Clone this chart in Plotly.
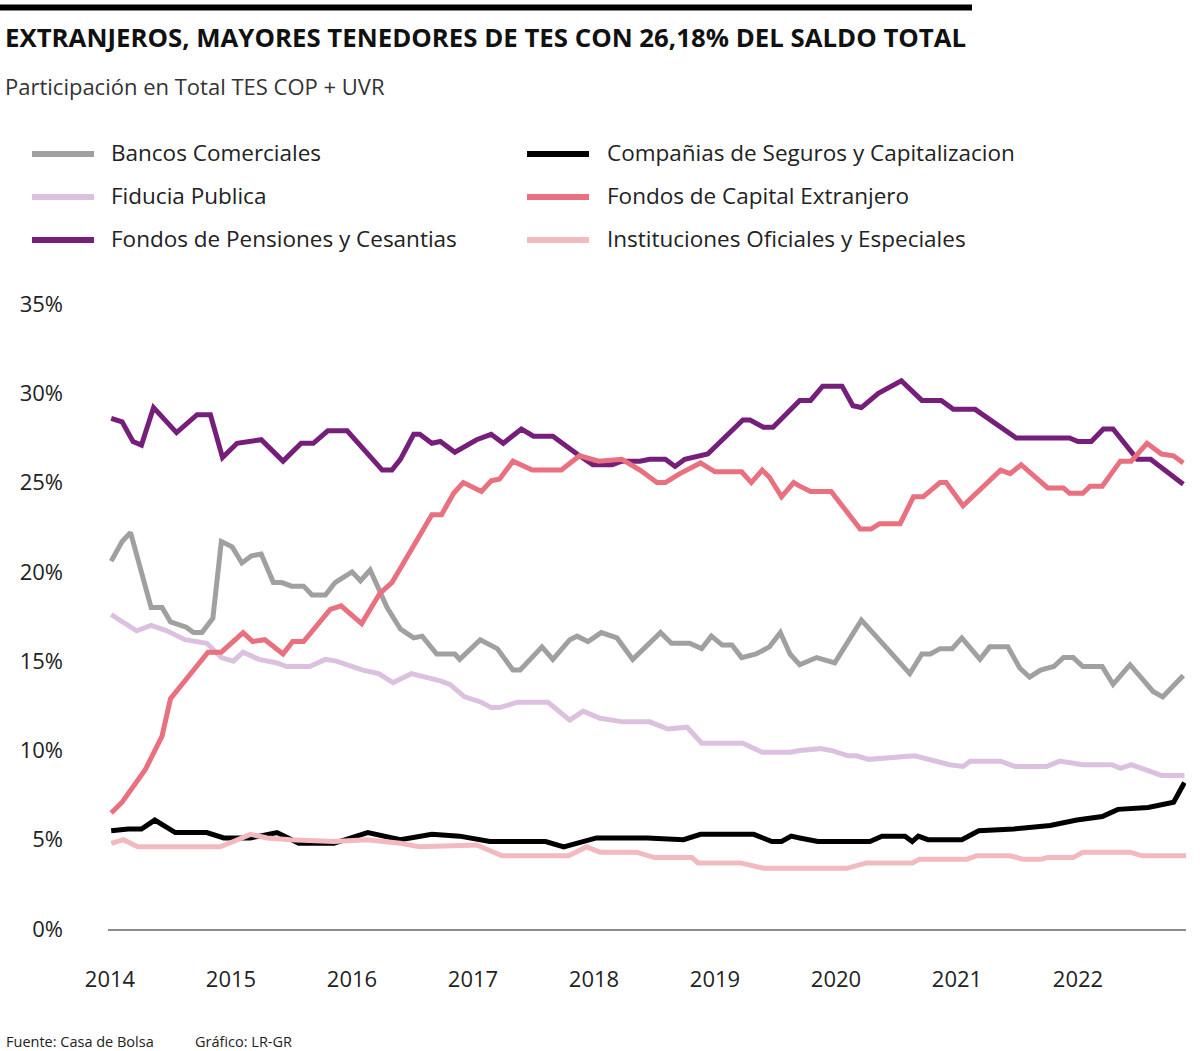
import plotly.graph_objects as go

# ---------------- data (decimal years, % share) ----------------
names = [
    "Bancos Comerciales",
    "Compañias de Seguros y Capitalizacion",
    "Fiducia Publica",
    "Fondos de Capital Extranjero",
    "Fondos de Pensiones y Cesantias",
    "Instituciones Oficiales y Especiales",
]
colors = ["#a0a0a0", "#000000", "#dcc0e0", "#e9707e", "#751f7b", "#f2b9be"]

bancos_x = [2014.01, 2014.10, 2014.17, 2014.34, 2014.43, 2014.50, 2014.63, 2014.69, 2014.76, 2014.85,
            2014.92, 2015.01, 2015.09, 2015.17, 2015.25, 2015.35, 2015.42, 2015.50, 2015.60, 2015.67,
            2015.78, 2015.86, 2016.00, 2016.07, 2016.15, 2016.29, 2016.40, 2016.51, 2016.58, 2016.70,
            2016.85, 2016.89, 2017.06, 2017.20, 2017.33, 2017.39, 2017.57, 2017.66, 2017.80, 2017.86,
            2017.95, 2018.06, 2018.19, 2018.32, 2018.55, 2018.64, 2018.79, 2018.89, 2018.97, 2019.06,
            2019.14, 2019.22, 2019.34, 2019.45, 2019.54, 2019.62, 2019.70, 2019.84, 2019.99, 2020.21,
            2020.61, 2020.71, 2020.78, 2020.86, 2020.96, 2021.04, 2021.19, 2021.27, 2021.42, 2021.52,
            2021.60, 2021.69, 2021.80, 2021.88, 2021.96, 2022.04, 2022.20, 2022.29, 2022.43, 2022.62,
            2022.70, 2022.87]
bancos_y = [20.6, 21.7, 22.2, 18.0, 18.0, 17.2, 16.9, 16.6, 16.6, 17.4,
            21.7, 21.4, 20.5, 20.9, 21.0, 19.4, 19.4, 19.2, 19.2, 18.7,
            18.7, 19.4, 20.0, 19.5, 20.1, 18.0, 16.8, 16.3, 16.4, 15.4,
            15.4, 15.1, 16.2, 15.7, 14.5, 14.5, 15.8, 15.1, 16.2, 16.4,
            16.1, 16.6, 16.3, 15.1, 16.6, 16.0, 16.0, 15.7, 16.4, 15.9,
            15.9, 15.2, 15.4, 15.8, 16.6, 15.4, 14.8, 15.2, 14.9, 17.3,
            14.3, 15.4, 15.4, 15.7, 15.7, 16.3, 15.1, 15.8, 15.8, 14.6,
            14.1, 14.5, 14.7, 15.2, 15.2, 14.7, 14.7, 13.7, 14.8, 13.3,
            13.0, 14.2]

seguros_x = [2014.01, 2014.15, 2014.26, 2014.37, 2014.54, 2014.80, 2014.94, 2015.16, 2015.38, 2015.56,
             2015.85, 2016.13, 2016.40, 2016.66, 2016.89, 2017.14, 2017.60, 2017.75, 2018.02, 2018.44,
             2018.74, 2018.88, 2019.32, 2019.47, 2019.55, 2019.63, 2019.70, 2019.85, 2020.28, 2020.38,
             2020.57, 2020.63, 2020.68, 2020.76, 2021.04, 2021.18, 2021.47, 2021.77, 2021.99, 2022.20,
             2022.33, 2022.58, 2022.79, 2022.88]
seguros_y = [5.5, 5.6, 5.6, 6.1, 5.4, 5.4, 5.1, 5.1, 5.4, 4.8,
             4.8, 5.4, 5.0, 5.3, 5.2, 4.9, 4.9, 4.6, 5.1, 5.1,
             5.0, 5.3, 5.3, 4.9, 4.9, 5.2, 5.1, 4.9, 4.9, 5.2,
             5.2, 4.9, 5.2, 5.0, 5.0, 5.5, 5.6, 5.8, 6.1, 6.3,
             6.7, 6.8, 7.1, 8.2]

fiducia_x = [2014.01, 2014.22, 2014.34, 2014.47, 2014.62, 2014.80, 2014.92, 2015.02, 2015.10, 2015.23,
             2015.38, 2015.46, 2015.65, 2015.78, 2015.87, 2016.09, 2016.22, 2016.34, 2016.40, 2016.49,
             2016.73, 2016.81, 2016.93, 2017.07, 2017.15, 2017.22, 2017.37, 2017.62, 2017.80, 2017.91,
             2018.05, 2018.24, 2018.46, 2018.61, 2018.77, 2018.89, 2019.23, 2019.39, 2019.62, 2019.70,
             2019.87, 2019.96, 2020.10, 2020.17, 2020.27, 2020.47, 2020.65, 2020.94, 2021.05, 2021.11,
             2021.36, 2021.48, 2021.74, 2021.85, 2022.04, 2022.28, 2022.35, 2022.44, 2022.57, 2022.69,
             2022.88]
fiducia_y = [17.6, 16.7, 17.0, 16.7, 16.2, 16.0, 15.2, 15.0, 15.5, 15.1,
             14.9, 14.7, 14.7, 15.1, 15.0, 14.5, 14.3, 13.8, 14.0, 14.3,
             13.9, 13.7, 13.0, 12.7, 12.4, 12.4, 12.7, 12.7, 11.7, 12.2,
             11.8, 11.6, 11.6, 11.2, 11.3, 10.4, 10.4, 9.9, 9.9, 10.0,
             10.1, 10.0, 9.7, 9.7, 9.5, 9.6, 9.7, 9.2, 9.1, 9.4,
             9.4, 9.1, 9.1, 9.4, 9.2, 9.2, 9.0, 9.2, 8.9, 8.6,
             8.6]

capital_x = [2014.01, 2014.10, 2014.29, 2014.43, 2014.50, 2014.58, 2014.72, 2014.81, 2014.92, 2015.10,
             2015.18, 2015.28, 2015.43, 2015.51, 2015.60, 2015.71, 2015.82, 2015.91, 2016.08, 2016.23,
             2016.33, 2016.40, 2016.66, 2016.74, 2016.84, 2016.92, 2017.07, 2017.15, 2017.22, 2017.33,
             2017.49, 2017.73, 2017.88, 2018.04, 2018.23, 2018.38, 2018.52, 2018.59, 2018.71, 2018.88,
             2019.00, 2019.22, 2019.30, 2019.39, 2019.45, 2019.55, 2019.65, 2019.70, 2019.79, 2019.96,
             2020.20, 2020.29, 2020.36, 2020.53, 2020.64, 2020.72, 2020.86, 2020.91, 2021.05, 2021.36,
             2021.44, 2021.53, 2021.75, 2021.88, 2021.93, 2022.04, 2022.10, 2022.20, 2022.35, 2022.44,
             2022.57, 2022.69, 2022.79, 2022.87]
capital_y = [6.5, 7.1, 8.9, 10.8, 12.9, 13.6, 14.8, 15.5, 15.5, 16.6,
             16.1, 16.2, 15.4, 16.1, 16.1, 17.0, 17.9, 18.1, 17.1, 18.8,
             19.4, 20.2, 23.2, 23.2, 24.4, 25.0, 24.5, 25.1, 25.2, 26.2,
             25.7, 25.7, 26.5, 26.2, 26.3, 25.7, 25.0, 25.0, 25.5, 26.1,
             25.6, 25.6, 25.0, 25.7, 25.3, 24.2, 25.0, 24.8, 24.5, 24.5,
             22.4, 22.4, 22.7, 22.7, 24.2, 24.2, 25.0, 25.0, 23.7, 25.7,
             25.5, 26.0, 24.7, 24.7, 24.4, 24.4, 24.8, 24.8, 26.2, 26.2,
             27.2, 26.6, 26.5, 26.1]

pensiones_x = [2014.01, 2014.10, 2014.19, 2014.26, 2014.36, 2014.55, 2014.72, 2014.83, 2014.93, 2015.05,
               2015.25, 2015.43, 2015.58, 2015.68, 2015.80, 2015.96, 2016.25, 2016.33, 2016.40, 2016.51,
               2016.56, 2016.66, 2016.73, 2016.85, 2017.03, 2017.15, 2017.25, 2017.40, 2017.50, 2017.66,
               2017.86, 2017.99, 2018.15, 2018.23, 2018.38, 2018.46, 2018.59, 2018.67, 2018.75, 2018.94,
               2019.23, 2019.29, 2019.40, 2019.48, 2019.70, 2019.79, 2019.89, 2020.05, 2020.14, 2020.21,
               2020.35, 2020.54, 2020.71, 2020.87, 2020.97, 2021.15, 2021.49, 2021.93, 2022.00, 2022.11,
               2022.21, 2022.29, 2022.49, 2022.60, 2022.87]
pensiones_y = [28.6, 28.4, 27.3, 27.1, 29.2, 27.8, 28.8, 28.8, 26.4, 27.2,
               27.4, 26.2, 27.2, 27.2, 27.9, 27.9, 25.7, 25.7, 26.3, 27.7,
               27.7, 27.2, 27.3, 26.7, 27.4, 27.7, 27.2, 28.0, 27.6, 27.6,
               26.6, 26.0, 26.0, 26.2, 26.2, 26.3, 26.3, 25.9, 26.3, 26.6,
               28.5, 28.5, 28.1, 28.1, 29.6, 29.6, 30.4, 30.4, 29.3, 29.2,
               30.0, 30.7, 29.6, 29.6, 29.1, 29.1, 27.5, 27.5, 27.3, 27.3,
               28.0, 28.0, 26.3, 26.3, 24.9]

oficiales_x = [2014.01, 2014.11, 2014.23, 2014.80, 2014.91, 2015.02, 2015.16, 2015.30, 2015.49, 2015.85,
               2016.12, 2016.40, 2016.56, 2017.03, 2017.24, 2017.79, 2017.94, 2018.05, 2018.35, 2018.50,
               2018.81, 2018.86, 2019.21, 2019.40, 2020.09, 2020.25, 2020.63, 2020.69, 2021.08, 2021.16,
               2021.44, 2021.55, 2021.69, 2021.75, 2021.96, 2022.04, 2022.43, 2022.53, 2022.91]
oficiales_y = [4.8, 5.0, 4.6, 4.6, 4.6, 4.9, 5.3, 5.1, 5.0, 4.9,
               5.0, 4.8, 4.6, 4.7, 4.1, 4.1, 4.6, 4.3, 4.3, 4.0,
               4.0, 3.7, 3.7, 3.4, 3.4, 3.7, 3.7, 3.9, 3.9, 4.1,
               4.1, 3.9, 3.9, 4.0, 4.0, 4.3, 4.3, 4.1, 4.1]

year_ticks = [2014, 2015, 2016, 2017, 2018, 2019, 2020, 2021, 2022]
pct_ticks = [0, 5, 10, 15, 20, 25, 30, 35]

series_x = [bancos_x, seguros_x, fiducia_x, capital_x, pensiones_x, oficiales_x]
series_y = [bancos_y, seguros_y, fiducia_y, capital_y, pensiones_y, oficiales_y]

# ---------------- layout helpers ----------------
W, H = 1200, 1051
L, R, T, B = 108, 14, 304, 122
PW, PH = W - L - R, H - T - B


def fx(px):
    return (px - L) / PW


def fy(py):
    return (H - B - py) / PH


FONT = "Open Sans, Noto Sans, sans-serif"

fig = go.Figure()
draw_order = [0, 2, 4, 1, 3, 5]
for i in draw_order:
    fig.add_trace(go.Scatter(
        x=series_x[i], y=series_y[i], mode="lines", name=names[i],
        line=dict(color=colors[i], width=5),
        hoverinfo="skip", showlegend=False,
    ))

shapes = []
annotations = []

# top rule
shapes.append(dict(type="rect", xref="paper", yref="paper",
                   x0=fx(0), x1=fx(972), y0=fy(10.5), y1=fy(4.5),
                   fillcolor="#000000", line=dict(width=0), layer="above"))

annotations.append(dict(text="<b>EXTRANJEROS, MAYORES TENEDORES DE TES CON 26,18% DEL SALDO TOTAL</b>",
                        xref="paper", yref="paper", x=fx(3), y=fy(37), xanchor="left", yanchor="middle",
                        showarrow=False, font=dict(family=FONT, size=25.8, color="#111111")))
annotations.append(dict(text="Participación en Total TES COP + UVR",
                        xref="paper", yref="paper", x=fx(3), y=fy(86), xanchor="left", yanchor="middle",
                        showarrow=False, font=dict(family=FONT, size=22, color="#333333")))

# manual legend (2 columns x 3 rows)
leg_cols = [(32, 94, 109), (527, 589, 605)]
leg_rows = [153, 196, 239]
legend_pos = [(0, 0), (1, 0), (0, 1), (1, 1), (0, 2), (1, 2)]
for i, (c, r) in enumerate(legend_pos):
    lx0, lx1, tx = leg_cols[c]
    yy = leg_rows[r]
    shapes.append(dict(type="line", xref="paper", yref="paper",
                       x0=fx(lx0), x1=fx(lx1), y0=fy(yy + 1), y1=fy(yy + 1),
                       line=dict(color=colors[i], width=6)))
    annotations.append(dict(text=names[i], xref="paper", yref="paper",
                            x=fx(tx), y=fy(yy), xanchor="left", yanchor="middle",
                            showarrow=False, font=dict(family=FONT, size=22.5, color="#222222")))

# footer
annotations.append(dict(text="Fuente: Casa de Bolsa", xref="paper", yref="paper",
                        x=fx(4), y=fy(1041), xanchor="left", yanchor="middle",
                        showarrow=False, font=dict(family=FONT, size=14.5, color="#222222")))
annotations.append(dict(text="Gráfico: LR-GR", xref="paper", yref="paper",
                        x=fx(193), y=fy(1041), xanchor="left", yanchor="middle",
                        showarrow=False, font=dict(family=FONT, size=14.5, color="#222222")))

x0_year = 2014 - 2 / 121
x1_year = 2014 + (W - R - 110) / 121

fig.update_layout(
    width=W, height=H,
    margin=dict(l=L, r=R, t=T, b=B),
    paper_bgcolor="white", plot_bgcolor="white",
    shapes=shapes, annotations=annotations,
    showlegend=False,
    xaxis=dict(range=[x0_year, x1_year], tickvals=year_ticks, ticktext=[str(y) for y in year_ticks],
               showgrid=False, zeroline=False, showline=True, linecolor="#8c8c8c", linewidth=1.5,
               ticks="", ticklabelstandoff=30,
               tickfont=dict(family=FONT, size=22, color="#222222")),
    yaxis=dict(range=[0, 35], tickvals=pct_ticks, ticktext=[f"{v}%" for v in pct_ticks],
               showgrid=False, zeroline=False, showline=False, ticks="", ticklabelstandoff=44,
               tickfont=dict(family=FONT, size=22, color="#222222")),
)

fig.write_html("out.html", config={"displayModeBar": False})
